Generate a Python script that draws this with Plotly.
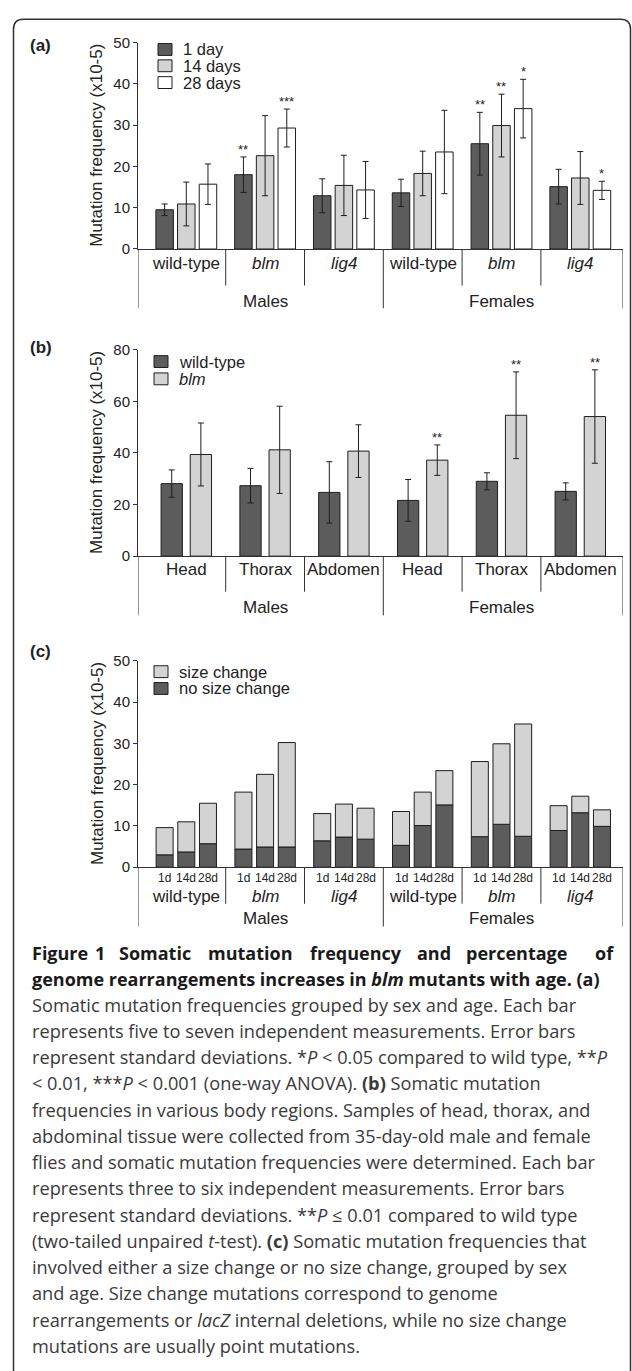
import plotly.graph_objects as go

W, H = 632, 1371

# ---------------- data ----------------
groups = ["wild-type", "<i>blm</i>", "<i>lig4</i>", "wild-type", "<i>blm</i>", "<i>lig4</i>"]
sexes = ["Males", "Females"]

# panel (a): mutation frequency by age
ages_a = ["1 day", "14 days", "28 days"]
a_1d = [9.5, 18.0, 12.9, 13.6, 25.5, 15.1]
a_14d = [10.9, 22.6, 15.4, 18.3, 29.9, 17.2]
a_28d = [15.7, 29.3, 14.3, 23.5, 34.0, 14.2]
a_1d_sd = [1.4, 4.3, 4.1, 3.3, 7.6, 4.2]
a_14d_sd = [5.3, 9.7, 7.3, 5.4, 7.6, 6.4]
a_28d_sd = [4.9, 4.6, 6.9, 10.1, 7.1, 2.2]
a_1d_sig = ["", "**", "", "", "**", ""]
a_14d_sig = ["", "", "", "", "**", ""]
a_28d_sig = ["", "***", "", "", "*", "*"]

# panel (b): body regions
regions = ["Head", "Thorax", "Abdomen", "Head", "Thorax", "Abdomen"]
genotypes_b = ["wild-type", "<i>blm</i>"]
b_wt = [28.1, 27.3, 24.7, 21.6, 29.0, 25.1]
b_blm = [39.4, 41.2, 40.7, 37.2, 54.6, 54.1]
b_wt_sd = [5.3, 6.7, 11.9, 8.1, 3.3, 3.3]
b_blm_sd = [12.2, 16.9, 10.2, 5.9, 16.8, 18.1]
b_blm_sig = ["", "", "", "**", "**", "**"]

# panel (c): size change vs no size change (stacked), per group and age
ages_c = ["1d", "14d", "28d"]
c_nosize_1d = [3.0, 4.4, 6.4, 5.3, 7.4, 8.9]
c_nosize_14d = [3.7, 4.9, 7.3, 10.1, 10.4, 13.2]
c_nosize_28d = [5.7, 4.9, 6.8, 15.1, 7.5, 9.9]
c_size_1d = [6.6, 13.8, 6.6, 8.2, 18.2, 6.0]
c_size_14d = [7.3, 17.6, 8.0, 8.1, 19.5, 4.0]
c_size_28d = [9.8, 25.3, 7.5, 8.3, 27.2, 4.0]

caption_title_words = ["Figure", "1", "Somatic", "mutation", "frequency", "and", "percentage", "of"]
caption_title_line2 = "<b>genome rearrangements increases in <i>blm</i> mutants with age. (a)</b>"
caption_lines = [
    "Somatic mutation frequencies grouped by sex and age. Each bar",
    "represents five to seven independent measurements. Error bars",
    "represent standard deviations. *<i>P</i> &lt; 0.05 compared to wild type, **<i>P</i>",
    "&lt; 0.01, ***<i>P</i> &lt; 0.001 (one-way ANOVA). <b>(b)</b> Somatic mutation",
    "frequencies in various body regions. Samples of head, thorax, and",
    "abdominal tissue were collected from 35-day-old male and female",
    "flies and somatic mutation frequencies were determined. Each bar",
    "represents three to six independent measurements. Error bars",
    "represent standard deviations. **<i>P</i> ≤ 0.01 compared to wild type",
    "(two-tailed unpaired <i>t</i>-test). <b>(c)</b> Somatic mutation frequencies that",
    "involved either a size change or no size change, grouped by sex",
    "and age. Size change mutations correspond to genome",
    "rearrangements or <i>lacZ</i> internal deletions, while no size change",
    "mutations are usually point mutations.",
]

# ---------------- styling ----------------
DARK = "#5c5c5c"
LIGHT = "#d3d3d3"
WHITE = "#ffffff"
EDGE = "#1e1e1e"
AX = "#333333"
FONT = "Liberation Sans, Arial, sans-serif"
CAPFONT = "Open Sans, Lato, sans-serif"


def X(px):
    return px / W


def Y(py):
    return 1 - py / H


XR = [-0.613, 5.542]
XDOM = [X(138), X(623)]
pos = list(range(len(groups)))

fig = go.Figure()


def add_bar(y, color, xa, ya, k, n, slot, width, err=None, base=None):
    off = (k - (n - 1) / 2) * slot - width / 2
    fig.add_trace(go.Bar(
        x=pos, y=y, base=base, xaxis=xa, yaxis=ya, width=width, offset=off,
        marker=dict(color=color, line=dict(color=EDGE, width=1)),
        error_y=None if err is None else dict(type="data", array=err, visible=True,
                                              color=EDGE, thickness=1, width=3),
        showlegend=False, hoverinfo="y"))


# panel (a)
slot_a, w_a = 0.275, 0.222
for k, (vals, sd, col) in enumerate([(a_1d, a_1d_sd, DARK), (a_14d, a_14d_sd, LIGHT), (a_28d, a_28d_sd, WHITE)]):
    add_bar(vals, col, "x", "y", k, 3, slot_a, w_a, err=sd)

# panel (b)
slot_b, w_b = 0.37, 0.27
for k, (vals, sd, col) in enumerate([(b_wt, b_wt_sd, DARK), (b_blm, b_blm_sd, LIGHT)]):
    add_bar(vals, col, "x2", "y2", k, 2, slot_b, w_b, err=sd)

# panel (c)
slot_c, w_c = 0.275, 0.216
for k, (ns, sc) in enumerate([(c_nosize_1d, c_size_1d), (c_nosize_14d, c_size_14d), (c_nosize_28d, c_size_28d)]):
    add_bar(ns, DARK, "x3", "y3", k, 3, slot_c, w_c)
    add_bar(sc, LIGHT, "x3", "y3", k, 3, slot_c, w_c, base=ns)

annotations = []
shapes = []


def ann(text, x, y, xref="paper", yref="paper", size=17, xanchor="center", yanchor="middle",
        font=FONT, color="#222222", **kw):
    annotations.append(dict(text=text, x=x, y=y, xref=xref, yref=yref, showarrow=False,
                            xanchor=xanchor, yanchor=yanchor,
                            font=dict(family=font, size=size, color=color), **kw))


# significance stars
for k, (vals, sd, sig) in enumerate([(a_1d, a_1d_sd, a_1d_sig), (a_14d, a_14d_sd, a_14d_sig), (a_28d, a_28d_sd, a_28d_sig)]):
    for i in pos:
        if sig[i]:
            ann(sig[i], i + (k - 1) * slot_a, vals[i] + sd[i], xref="x", yref="y", size=13,
                yanchor="bottom", yshift=-2)
for i in pos:
    if b_blm_sig[i]:
        ann(b_blm_sig[i], i + 0.5 * slot_b, b_blm[i] + b_blm_sd[i], xref="x2", yref="y2", size=13,
            yanchor="bottom", yshift=-2)

# axis panels layout info: (xaxis, yaxis, top px, bottom px, range, dtick)
panels = [("x", "y", 34, 243, [0, 50], 10), ("x2", "y2", 345, 554, [0, 80], 20), ("x3", "y3", 660, 869, [0, 50], 10)]
layout_axes = {}
for n, (xa, ya, top, bot, yr, dt) in enumerate(panels):
    xkey = "xaxis" if xa == "x" else "xaxis" + xa[1:]
    ykey = "yaxis" if ya == "y" else "yaxis" + ya[1:]
    layout_axes[xkey] = dict(domain=XDOM, range=XR, anchor=ya, showline=True, linecolor=AX, linewidth=1,
                             ticks="", showticklabels=False, showgrid=False, zeroline=False, fixedrange=True)
    layout_axes[ykey] = dict(domain=[Y(bot), Y(top)], range=yr, anchor=xa, dtick=dt, showline=True,
                             linecolor=AX, linewidth=1, ticks="outside", ticklen=4, tickwidth=1,
                             tickcolor=AX, showgrid=False, zeroline=False,
                             tickfont=dict(family=FONT, size=15, color="#222222"), fixedrange=True)
    # y-axis title
    ann("Mutation frequency (x10-5)", X(97), (Y(bot) + Y(top)) / 2, size=17, textangle=-90)

# panel labels
ann("<b>(a)</b>", X(28), Y(37), xanchor="left", size=17)
ann("<b>(b)</b>", X(28), Y(343), xanchor="left", size=17)
ann("<b>(c)</b>", X(28), Y(651), xanchor="left", size=17)


def dividers(xa, y_axis, y_inner, y_outer):
    for xv in [0.5, 1.5, 3.5, 4.5]:
        shapes.append(dict(type="line", xref=xa, yref="paper", x0=xv, x1=xv, y0=Y(y_axis), y1=Y(y_inner),
                           line=dict(color=AX, width=1)))
    for xv in [XR[0], 2.5, XR[1]]:
        shapes.append(dict(type="line", xref=xa, yref="paper", x0=xv, x1=xv, y0=Y(y_axis), y1=Y(y_outer),
                           line=dict(color=AX, width=1)))


# panel (a) category labels
dividers("x", 243, 280, 303)
for i, g in enumerate(groups):
    ann(g, i, Y(258), xref="x")
for j, s in enumerate(sexes):
    ann(s, 1 + 3 * j, Y(296), xref="x")

# panel (b) category labels
dividers("x2", 554, 590, 614)
for i, g in enumerate(regions):
    ann(g, i, Y(568), xref="x2")
for j, s in enumerate(sexes):
    ann(s, 1 + 3 * j, Y(606), xref="x2")

# panel (c) category labels
dividers("x3", 869, 906, 929)
for i, g in enumerate(groups):
    for k, a in enumerate(ages_c):
        ann(a, i + (k - 1) * slot_c, Y(880), xref="x3", size=12)
    ann(g, i, Y(899), xref="x3")
for j, s in enumerate(sexes):
    ann(s, 1 + 3 * j, Y(921), xref="x3")


# manual legends
def legend(items, x_box, y_centers, x_text, size=16.5):
    for (label, color), yc in zip(items, y_centers):
        shapes.append(dict(type="rect", xref="paper", yref="paper", x0=X(x_box), x1=X(x_box + 14),
                           y0=Y(yc + 6), y1=Y(yc - 6), fillcolor=color, line=dict(color=EDGE, width=1)))
        ann(label, X(x_text), Y(yc), xanchor="left", size=size)


legend(list(zip(ages_a, [DARK, LIGHT, WHITE])), 158, [41, 57.5, 74.5], 181)
legend(list(zip(genotypes_b, [DARK, LIGHT])), 154, [357, 374.5], 177)
legend([("size change", LIGHT), ("no size change", DARK)], 154, [671, 688], 177)

# caption: bold title (first line spread over the full width), then body text
title_x = [30, 93, 117, 206, 308, 415, 464, 593]
for wd, xp in zip(caption_title_words, title_x):
    ann(f"<b>{wd}</b>", X(xp), Y(956), xanchor="left", size=18, font=CAPFONT, color="#1a1a1a")
ann(caption_title_line2, X(30), Y(982.5), xanchor="left", size=18, font=CAPFONT, color="#1a1a1a")
for k, txt in enumerate(caption_lines):
    ann(txt, X(30), Y(1008 + 26.6 * k), xanchor="left", size=18.2, font=CAPFONT, color="#3a3a3a")

# frame with rounded top corners
r = 10
xl, xr, yt, yb = 13.5, 630.5, 10.5, 1385
path = (f"M {X(xl)},{Y(yb)} L {X(xl)},{Y(yt + r)} Q {X(xl)},{Y(yt)} {X(xl + r)},{Y(yt)} "
        f"L {X(xr - r)},{Y(yt)} Q {X(xr)},{Y(yt)} {X(xr)},{Y(yt + r)} L {X(xr)},{Y(yb)}")
shapes.append(dict(type="path", xref="paper", yref="paper", path=path, line=dict(color="#333333", width=1.5)))

fig.update_layout(
    width=W, height=H, margin=dict(l=0, r=0, t=0, b=0),
    paper_bgcolor="white", plot_bgcolor="white",
    barmode="overlay", showlegend=False,
    annotations=annotations, shapes=shapes,
    font=dict(family=FONT, color="#222222"),
    **layout_axes,
)

fig.write_html("out.html", config={"displayModeBar": False},
               post_script="document.body.style.margin='0';")
